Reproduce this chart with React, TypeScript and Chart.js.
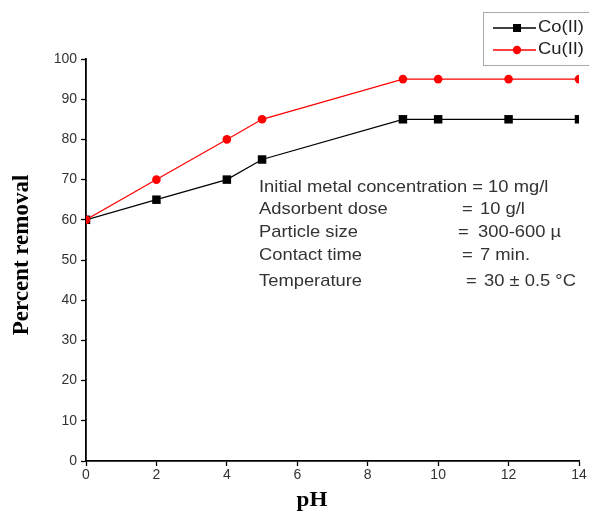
import React, { useEffect, useRef } from "react";
import { Chart, registerables } from "chart.js";

Chart.register(...registerables);

const pH = [0, 2, 4, 5, 9, 10, 12, 14];
const coRemoval = [60, 65, 70, 75, 85, 85, 85, 85];
const cuRemoval = [60, 70, 80, 85, 95, 95, 95, 95];
const xTicks = [0, 2, 4, 6, 8, 10, 12, 14];
const yTicks = [0, 10, 20, 30, 40, 50, 60, 70, 80, 90, 100];
const notesLeft = ["Initial metal concentration = 10 mg/l", "Adsorbent dose", "Particle size", "Contact time", "Temperature"];
const notesValue = ["", "10 g/l", "300-600 µ", "7 min.", "30 ± 0.5 °C"];
const legendLabels = ["Co(II)", "Cu(II)"];

const SX = 1.08;

function stretchedText(ctx: any, text: string, x: number, y: number, sx: number) {
  ctx.save();
  ctx.translate(x, y);
  ctx.scale(sx, 1);
  ctx.fillText(text, 0, 0);
  ctx.restore();
}

const annotationPlugin = {
  id: "annot",
  afterDraw(chart: any) {
    const ctx = chart.ctx;
    ctx.save();
    ctx.fillStyle = "#333";
    ctx.font = "17px 'Liberation Sans', Arial, sans-serif";
    ctx.textBaseline = "middle";
    ctx.textAlign = "left";
    const lineYs = [187, 209, 232, 255, 281];
    const eqX = [0, 462, 458, 462, 466];
    const valX = [0, 480, 478, 480, 484];
    notesLeft.forEach((t, i) => {
      stretchedText(ctx, t, 259, lineYs[i], SX);
      if (notesValue[i]) {
        stretchedText(ctx, "=", eqX[i], lineYs[i], SX);
        stretchedText(ctx, notesValue[i], valX[i], lineYs[i], SX);
      }
    });
    ctx.fillStyle = "#000";
    ctx.font = "bold 22px 'Liberation Serif', 'Times New Roman', serif";
    ctx.textAlign = "center";
    stretchedText(ctx, "pH", 312, 500, 1.05);
    ctx.save();
    ctx.translate(22, 255);
    ctx.rotate(-Math.PI / 2);
    ctx.font = "bold 23px 'Liberation Serif', 'Times New Roman', serif";
    ctx.fillText("Percent removal", 0, 0);
    ctx.restore();
    // legend
    ctx.strokeStyle = "#aaa";
    ctx.lineWidth = 1;
    ctx.strokeRect(483.5, 12.5, 106, 53);
    const colors = ["#000", "#ff0000"];
    const rows = [28, 50];
    ctx.font = "16px 'Liberation Sans', Arial, sans-serif";
    ctx.textAlign = "left";
    legendLabels.forEach((label, i) => {
      const y = rows[i];
      ctx.strokeStyle = colors[i];
      ctx.fillStyle = colors[i];
      ctx.lineWidth = 1.3;
      ctx.beginPath();
      ctx.moveTo(493, y);
      ctx.lineTo(536, y);
      ctx.stroke();
      if (i === 0) {
        ctx.fillRect(513, y - 4, 8, 8);
      } else {
        ctx.beginPath();
        ctx.arc(517, y, 4.2, 0, Math.PI * 2);
        ctx.fill();
      }
      ctx.fillStyle = "#222";
      stretchedText(ctx, label, 538, y, 1.15);
    });
    ctx.restore();
  },
};

export default function App() {
  const ref = useRef<HTMLCanvasElement>(null);
  useEffect(() => {
    if (!ref.current) return;
    const tickFont = { family: "'Liberation Sans', Arial, sans-serif", size: 14 };
    const chart = new Chart(ref.current, {
      type: "line",
      data: {
        datasets: [
          {
            label: legendLabels[1],
            data: pH.map((x, i) => ({ x, y: cuRemoval[i] })),
            borderColor: "#ff0000",
            backgroundColor: "#ff0000",
            borderWidth: 1.2,
            pointStyle: "circle",
            pointRadius: 4.3,
            pointBorderWidth: 0,
            order: 0,
          },
          {
            label: legendLabels[0],
            data: pH.map((x, i) => ({ x, y: coRemoval[i] })),
            borderColor: "#000",
            backgroundColor: "#000",
            borderWidth: 1.2,
            pointStyle: "rect",
            pointRadius: 6,
            pointBorderWidth: 0,
            order: 1,
          },
        ],
      },
      options: {
        animation: false,
        responsive: false,
        maintainAspectRatio: false,
        layout: { padding: { left: 0, right: 10, top: 59, bottom: 0 } },
        plugins: { legend: { display: false }, tooltip: { enabled: false } },
        scales: {
          x: {
            type: "linear",
            min: 0,
            max: 14,
            afterBuildTicks: (s: any) => {
              s.ticks = xTicks.map((v) => ({ value: v }));
            },
            afterFit: (s: any) => {
              s.height = 53;
            },
            grid: { display: true, drawOnChartArea: false, drawTicks: true, tickLength: 5, tickColor: "#000", tickWidth: 1.3 },
            border: { display: true, color: "#000", width: 1.8 },
            ticks: { color: "#333", font: tickFont, padding: 1, maxRotation: 0 },
          },
          y: {
            min: 0,
            max: 100,
            afterBuildTicks: (s: any) => {
              s.ticks = yTicks.map((v) => ({ value: v }));
            },
            afterFit: (s: any) => {
              s.width = 86;
            },
            grid: { display: true, drawOnChartArea: false, drawTicks: true, tickLength: 5, tickColor: "#000", tickWidth: 1.3 },
            border: { display: true, color: "#000", width: 1.8 },
            ticks: { color: "#333", font: tickFont, padding: 4 },
          },
        },
      },
      plugins: [annotationPlugin],
    } as any);
    return () => chart.destroy();
  }, []);
  return (
    <div style={{ position: "fixed", left: 0, top: 0, width: 589, height: 514, background: "#fff" }}>
      <canvas ref={ref} width={589} height={514} style={{ width: 589, height: 514 }} />
    </div>
  );
}
